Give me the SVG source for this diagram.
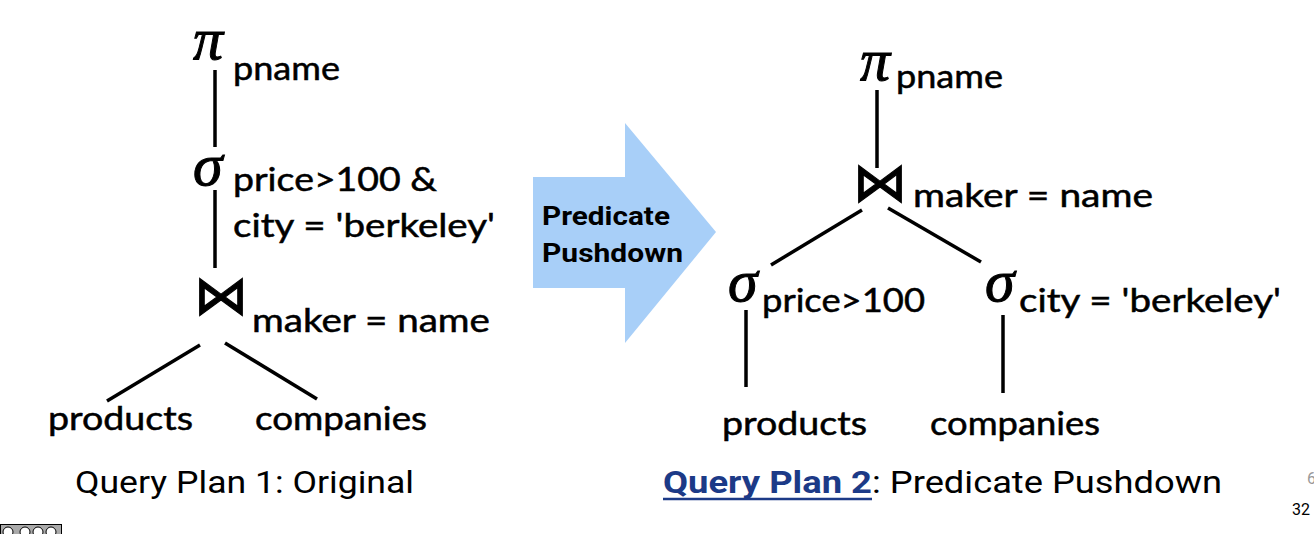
<svg xmlns="http://www.w3.org/2000/svg" width="1314" height="534" viewBox="0 0 1314 534">
<style>
.greek{font-family:"Liberation Serif",serif;font-style:italic;font-size:60px;fill:#000;stroke:#000;stroke-width:1}
.lbl{font-family:Lato,"Open Sans",sans-serif;font-size:32px;fill:#000;stroke:#000;stroke-width:0.5}
.bow{font-family:"DejaVu Sans",sans-serif;font-size:54px;fill:#000;stroke:#000;stroke-width:1.2}
.cap{font-family:Roboto,"Liberation Sans",sans-serif;font-size:32px;fill:#000}
.link{font-family:Roboto,"Liberation Sans",sans-serif;font-size:32px;font-weight:bold;fill:#1c3a87}
.edge{stroke:#000;stroke-width:3.5;fill:none;stroke-linecap:butt}
</style>
<rect width="1314" height="534" fill="#fff"/>
<g id="connectors">
<line class="edge" x1="215" y1="70" x2="215" y2="147"/>
<line class="edge" x1="215" y1="190" x2="215" y2="268"/>
<line class="edge" x1="200" y1="345" x2="107" y2="401"/>
<line class="edge" x1="225" y1="343" x2="317" y2="399"/>
<line class="edge" x1="877" y1="90" x2="877" y2="168"/>
<line class="edge" x1="862" y1="210" x2="771" y2="265"/>
<line class="edge" x1="888" y1="208" x2="981" y2="262"/>
<line class="edge" x1="746" y1="310" x2="746" y2="387"/>
<line class="edge" x1="1003" y1="315" x2="1003" y2="393"/>
</g>
<g id="plan1-project">
<text class="greek" x="193" y="59">π</text>
<text class="lbl" x="233" y="80" textLength="107" lengthAdjust="spacingAndGlyphs">pname</text>
</g>
<g id="plan1-select">
<text class="greek" x="193" y="185">σ</text>
<text class="lbl" x="233" y="191" textLength="204" lengthAdjust="spacingAndGlyphs">price&gt;100 &amp;</text>
<text class="lbl" x="233" y="237" textLength="262" lengthAdjust="spacingAndGlyphs">city = 'berkeley'</text>
</g>
<g id="plan1-join">
<text class="bow" x="194" y="314">⋈</text>
<text class="lbl" x="252" y="332" textLength="238" lengthAdjust="spacingAndGlyphs">maker = name</text>
</g>
<g id="plan1-products">
<text class="lbl" x="48" y="430" textLength="145" lengthAdjust="spacingAndGlyphs">products</text>
</g>
<g id="plan1-companies">
<text class="lbl" x="255" y="430" textLength="172" lengthAdjust="spacingAndGlyphs">companies</text>
</g>
<g id="caption1">
<text class="cap" x="75" y="493" textLength="339" lengthAdjust="spacingAndGlyphs">Query Plan 1: Original</text>
</g>
<g id="arrow">
<polygon points="533,177 625,177 625,123 716,232 625,343 625,288 533,288" fill="#a8cff8"/>
<text x="542" y="225" font-family="Roboto,'Liberation Sans',sans-serif" font-weight="bold" font-size="25" textLength="128" lengthAdjust="spacingAndGlyphs">Predicate</text>
<text x="542" y="262" font-family="Roboto,'Liberation Sans',sans-serif" font-weight="bold" font-size="25" textLength="141" lengthAdjust="spacingAndGlyphs">Pushdown</text>
</g>
<g id="plan2-project">
<text class="greek" x="860" y="80">π</text>
<text class="lbl" x="896" y="88" textLength="107" lengthAdjust="spacingAndGlyphs">pname</text>
</g>
<g id="plan2-join">
<text class="bow" x="853" y="201">⋈</text>
<text class="lbl" x="913" y="207" textLength="240" lengthAdjust="spacingAndGlyphs">maker = name</text>
</g>
<g id="plan2-select-price">
<text class="greek" x="728" y="301">σ</text>
<text class="lbl" x="762" y="312" textLength="163" lengthAdjust="spacingAndGlyphs">price&gt;100</text>
</g>
<g id="plan2-select-city">
<text class="greek" x="985" y="301">σ</text>
<text class="lbl" x="1019" y="312" textLength="262" lengthAdjust="spacingAndGlyphs">city = 'berkeley'</text>
</g>
<g id="plan2-products">
<text class="lbl" x="722" y="435" textLength="145" lengthAdjust="spacingAndGlyphs">products</text>
</g>
<g id="plan2-companies">
<text class="lbl" x="930" y="435" textLength="170" lengthAdjust="spacingAndGlyphs">companies</text>
</g>
<g id="caption2">
<text class="link" x="663" y="493" textLength="209" lengthAdjust="spacingAndGlyphs">Query Plan 2</text>
<line x1="663" y1="499" x2="872" y2="499" stroke="#1c3a87" stroke-width="2.5"/>
<text class="cap" x="872" y="493" textLength="350" lengthAdjust="spacingAndGlyphs">: Predicate Pushdown</text>
</g>
<g id="footer">
<text x="1307" y="484" font-family="Roboto,'Liberation Sans',sans-serif" font-size="16" fill="#999">6</text>
<text x="1292" y="515" font-family="Roboto,'Liberation Sans',sans-serif" font-size="16" fill="#000">32</text>
<rect x="0.5" y="524.5" width="61" height="12" fill="#aaa" stroke="#000" stroke-width="1"/>
<circle cx="8" cy="532" r="5" fill="#fff" stroke="#000"/>
<circle cx="25" cy="532" r="5" fill="#fff" stroke="#000"/>
<circle cx="38" cy="532" r="5" fill="#fff" stroke="#000"/>
<circle cx="51" cy="532" r="5" fill="#fff" stroke="#000"/>
</g>
</svg>
